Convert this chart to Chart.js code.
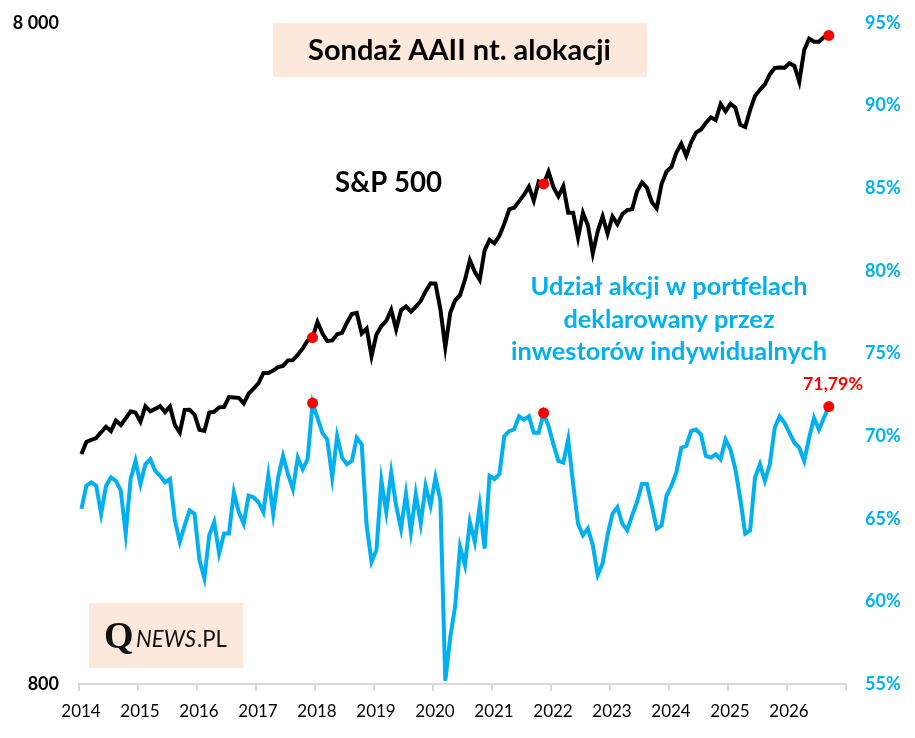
<!DOCTYPE html>
<html><head><meta charset="utf-8">
<script src="https://cdn.jsdelivr.net/npm/chart.js@4.4.1/dist/chart.umd.min.js"></script>
<style>html,body{margin:0;padding:0;background:#fff;overflow:hidden}#wrap{width:915px;height:738px;position:relative}</style>
</head><body><div id="wrap"><canvas id="c" width="915" height="738"></canvas></div>
<script>
// ---------- DATA ----------
const startYear = 2014;
const startMonth = 1; // Jan 2014, monthly observations
const sp500 = [
  1783,1859,1872,1884,1924,1960,1931,2003,1972,2018,2068,2059,
  1995,2105,2068,2086,2107,2063,2104,1972,1920,2079,2080,2044,
  1940,1932,2060,2065,2097,2099,2174,2171,2168,2126,2199,2239,
  2279,2364,2363,2384,2412,2423,2470,2472,2519,2575,2648,2674,
  2824,2714,2641,2648,2705,2718,2816,2902,2914,2712,2760,2507,
  2704,2784,2834,2946,2752,2942,2980,2926,2977,3038,3141,3231,
  3226,2954,2585,2912,3044,3100,3271,3500,3363,3270,3622,3756,
  3714,3811,3973,4181,4204,4298,4395,4523,4308,4605,4567,4766,
  4516,4374,4530,4132,4132,3785,4130,3955,3586,3872,4080,3840,
  4077,3970,4109,4169,4180,4450,4589,4508,4288,4194,4568,4770,
  4846,5096,5254,5036,5278,5460,5522,5648,5762,5705,6032,5882,
  6041,5955,5612,5569,5912,6205,6339,6460,6688,6840,6849,6845,
  6955,6890,6522,7282,7575,7496,7496,7615,7660
];
const aaiiStocks = [
  65.6,67.0,67.2,67.0,65.3,67.0,67.5,67.3,66.7,64.1,67.4,68.5,
  67.1,68.3,68.6,67.9,67.6,67.2,67.4,64.9,63.6,64.6,65.5,65.3,
  62.5,61.4,64.0,64.8,62.9,64.1,64.1,66.6,65.4,64.7,66.4,66.3,
  66.0,65.4,67.6,65.3,67.5,68.8,67.7,66.8,68.7,68.0,68.6,72.0,
  71.1,70.2,69.8,67.5,70.0,68.7,68.3,68.5,69.9,69.5,64.6,62.4,
  63.1,67.3,65.4,67.8,65.8,64.4,66.5,64.2,66.5,64.7,67.0,65.8,
  67.5,66.1,55.2,57.8,59.7,63.3,62.2,64.8,63.6,65.8,63.2,67.6,
  67.4,67.7,70.0,70.3,70.4,71.2,71.0,71.2,70.2,70.2,71.4,70.6,
  69.5,68.5,68.4,69.8,67.1,64.7,64.0,64.4,63.4,61.6,62.3,64.0,
  65.3,65.7,64.7,64.3,65.2,66.0,67.1,67.1,65.8,64.4,64.6,66.4,
  67.0,67.8,69.3,69.4,70.3,70.4,70.1,68.8,68.7,68.9,68.6,69.8,
  69.2,68.0,66.2,64.1,64.3,67.5,68.3,67.3,68.3,70.5,71.2,70.8,
  70.2,69.6,69.3,68.5,69.9,71.1,70.4,71.1,71.79
];
const highlightIdx = [47, 94, 152];
const xTickYears = [2014,2015,2016,2017,2018,2019,2020,2021,2022,2023,2024,2025,2026,2027];
const xTickLabels = ['2014','2015','2016','2017','2018','2019','2020','2021','2022','2023','2024','2025','2026',''];
const leftTicks = [800, 8000];
const leftTickLabels = ['800', '8 000'];
const rightTicks = [55,60,65,70,75,80,85,90,95];
const rightTickLabels = ['55%','60%','65%','70%','75%','80%','85%','90%','95%'];
const lastValueLabel = '71,79%';
const titleText = 'Sondaż AAII nt. alokacji';
const spText = 'S&P 500';
const blueText = ['Udział akcji w portfelach','deklarowany przez','inwestorów indywidualnych'];

// month index -> decimal year (mid-month)
const xs = sp500.map((_, i) => startYear + (startMonth - 1 + i + 0.5) / 12);

const BLUE = '#00B0F0', RED = '#FF0000', BOX = '#FCE9DC', CLEAR = 'rgba(0,0,0,0)';

function fitFont(ctx, text, weight, style, family, targetW) {
  ctx.font = `${style} ${weight} 100px ${family}`;
  const w = ctx.measureText(text).width;
  return 100 * targetW / w;
}
function drawText(ctx, text, size, weight, style, family, x, y, color, align) {
  ctx.font = `${style} ${weight} ${size}px ${family}`;
  ctx.fillStyle = color; ctx.textAlign = align || 'center'; ctx.textBaseline = 'alphabetic';
  ctx.fillText(text, x, y);
}

const annot = {
  id: 'annot',
  beforeDatasetsDraw(chart) {
    const ctx = chart.ctx;
    ctx.save();
    ctx.fillStyle = BOX;
    ctx.fillRect(273, 23, 374, 54);
    ctx.fillRect(89, 603, 154, 65);
    ctx.restore();
  },
  afterDraw(chart) {
    const ctx = chart.ctx;
    ctx.save();
    let s = fitFont(ctx, titleText, 'bold', 'normal', 'Lato', 303);
    drawText(ctx, titleText, s, 'bold', 'normal', 'Lato', 459.5, 60, '#000');
    s = fitFont(ctx, spText, 'bold', 'normal', 'Lato', 107);
    drawText(ctx, spText, s, 'bold', 'normal', 'Lato', 388.5, 192, '#000');
    s = fitFont(ctx, blueText[2], 'bold', 'normal', 'Lato', 316);
    const bases = [295, 327.5, 360];
    blueText.forEach((t, k) => drawText(ctx, t, s, 'bold', 'normal', 'Lato', 669, bases[k], BLUE));
    s = fitFont(ctx, lastValueLabel, 'bold', 'normal', 'Lato', 60);
    drawText(ctx, lastValueLabel, s, 'bold', 'normal', 'Lato', 833, 390, RED);
    // logo
    drawText(ctx, 'Q', 38, 'bold', 'normal', '"Liberation Serif"', 104, 648, '#111', 'left');
    s = fitFont(ctx, 'NEWS', 'normal', 'italic', 'Lato', 60);
    drawText(ctx, 'NEWS', s, 'normal', 'italic', 'Lato', 136, 647, '#111', 'left');
    s = fitFont(ctx, '.PL', 'normal', 'normal', 'Lato', 30);
    drawText(ctx, '.PL', s, 'normal', 'normal', 'Lato', 197, 647, '#111', 'left');
    ctx.restore();
  }
};

const ptRadius = c => highlightIdx.includes(c.dataIndex) ? 5.5 : 0;

new Chart(document.getElementById('c').getContext('2d'), {
  type: 'line',
  data: {
    datasets: [
      { label: 'S&P 500', data: sp500.map((v, i) => ({x: xs[i], y: v})), yAxisID: 'y',
        borderColor: '#000', borderWidth: 4, tension: 0, fill: false,
        pointRadius: ptRadius, pointHoverRadius: ptRadius, pointBackgroundColor: RED, pointBorderWidth: 0 },
      { label: 'AAII', data: aaiiStocks.map((v, i) => ({x: xs[i], y: v})), yAxisID: 'y1',
        borderColor: BLUE, borderWidth: 4, tension: 0, fill: false,
        pointRadius: ptRadius, pointHoverRadius: ptRadius, pointBackgroundColor: RED, pointBorderWidth: 0 }
    ]
  },
  options: {
    responsive: false, animation: false, devicePixelRatio: 1,
    layout: { autoPadding: false, padding: { top: 23, left: 0, right: 0, bottom: 0 } },
    plugins: { legend: { display: false }, tooltip: { enabled: false } },
    events: [],
    scales: {
      x: {
        type: 'linear', position: 'bottom', min: 2014, max: 2027,
        afterBuildTicks: s => { s.ticks = xTickYears.map(v => ({value: v})); },
        ticks: { callback: v => xTickLabels[xTickYears.indexOf(v)], color: '#000',
                 font: { family: 'Lato', size: 17 }, padding: 10, maxRotation: 0, autoSkip: false, labelOffset: 2 },
        grid: { drawOnChartArea: false, drawTicks: true, tickLength: 7, color: '#D9D9D9', lineWidth: 2 },
        border: { display: true, color: '#D9D9D9', width: 2 },
        afterFit: s => { s.height = 54; }
      },
      y: {
        type: 'logarithmic', position: 'left', min: 800, max: 8000,
        afterBuildTicks: s => { s.ticks = leftTicks.map(v => ({value: v})); },
        ticks: { callback: v => leftTickLabels[leftTicks.indexOf(v)], color: '#000',
                 font: { family: 'Lato', size: 18, weight: 'bold' }, padding: 0, autoSkip: false },
        grid: { display: true, drawOnChartArea: false, drawTicks: true, tickLength: 20, color: CLEAR, tickColor: CLEAR },
        border: { display: false },
        afterFit: s => { s.width = 79; }
      },
      y1: {
        type: 'linear', position: 'right', min: 55, max: 95,
        afterBuildTicks: s => { s.ticks = rightTicks.map(v => ({value: v})); },
        ticks: { callback: v => rightTickLabels[rightTicks.indexOf(v)], color: BLUE,
                 font: { family: 'Lato', size: 18, weight: 'bold' }, padding: 0, autoSkip: false },
        grid: { display: true, drawOnChartArea: false, drawTicks: true, tickLength: 19, color: CLEAR, tickColor: CLEAR },
        border: { display: false },
        afterFit: s => { s.width = 69; }
      }
    }
  },
  plugins: [annot]
});
</script></body></html>
